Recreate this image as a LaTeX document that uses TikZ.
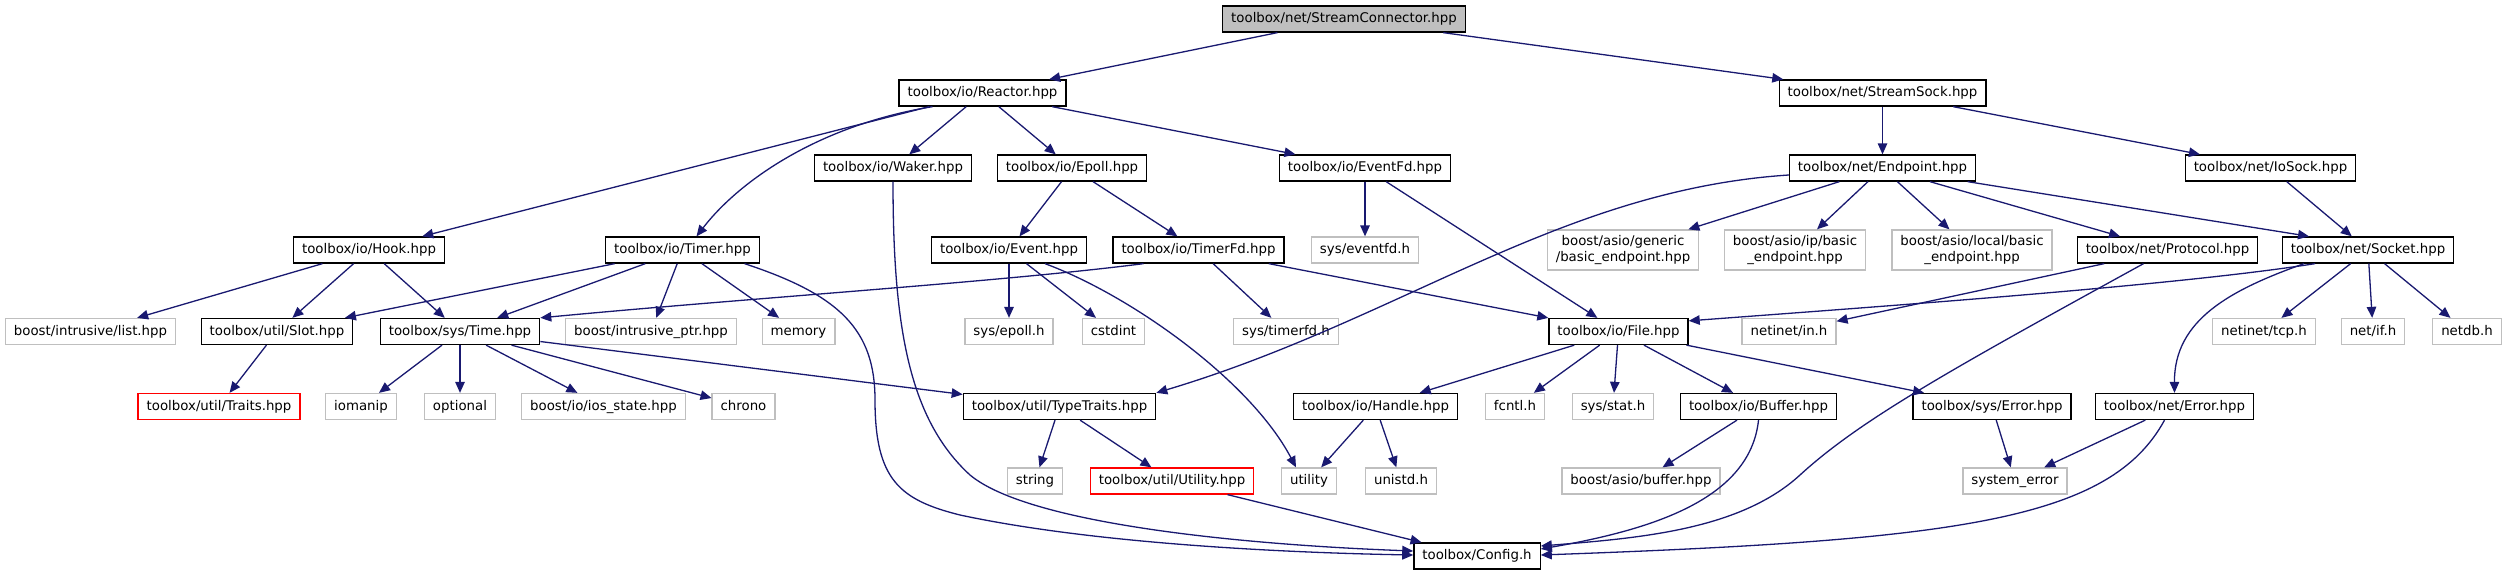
\documentclass[tikz,border=0pt]{standalone}
\usepackage{fontspec}
\setmainfont{DejaVu Sans}
\usepackage{xcolor}
\usepackage{tikz}
\usetikzlibrary{arrows.meta}
\definecolor{deplink}{HTML}{191970}
\definecolor{extgray}{HTML}{BFBFBF}
\definecolor{nodoc}{HTML}{FF0000}
\newcommand{\Lbl}{\fontsize{13.33}{16}\selectfont}

\begin{document}
\begin{tikzpicture}[x=1pt,y=-1pt, font=\Lbl,
    box/.style={rectangle, line width=1.3pt, inner xsep=8.5pt, inner ysep=0pt, minimum height=26pt, text height=10pt, text depth=3pt},
    hdr/.style={box, draw=black},
    ext/.style={box, draw=extgray},
    exttwo/.style={ext, align=center, minimum height=40pt, text height=, text depth=},
    miss/.style={box, draw=nodoc},
    dep/.style={draw=deplink, line width=1.3pt, -{Triangle[length=11pt,width=9.5pt]}}]
  \useasboundingbox (0,0) rectangle (2507,575);
  % headers of the project
  \node[hdr, fill=extgray] (sc) at (1344,19) {toolbox/net/StreamConnector.hpp};
  \node[hdr] (reactor) at (982.5,93) {toolbox/io/Reactor.hpp};
  \node[hdr] (streamsock) at (1882.5,93) {toolbox/net/StreamSock.hpp};
  \node[hdr] (waker) at (893,168) {toolbox/io/Waker.hpp};
  \node[hdr] (epoll) at (1072,168) {toolbox/io/Epoll.hpp};
  \node[hdr] (eventfd) at (1365,168) {toolbox/io/EventFd.hpp};
  \node[hdr] (endpoint) at (1882.5,168) {toolbox/net/Endpoint.hpp};
  \node[hdr] (iosock) at (2270.5,168) {toolbox/net/IoSock.hpp};
  \node[hdr] (hook) at (369,250) {toolbox/io/Hook.hpp};
  \node[hdr] (timer) at (682.5,250) {toolbox/io/Timer.hpp};
  \node[hdr] (event) at (1009,250) {toolbox/io/Event.hpp};
  \node[hdr] (timerfd) at (1198.5,250) {toolbox/io/TimerFd.hpp};
  \node[hdr] (protocol) at (2167.5,250) {toolbox/net/Protocol.hpp};
  \node[hdr] (socket) at (2368,250) {toolbox/net/Socket.hpp};
  \node[hdr] (slot) at (277,331.5) {toolbox/util/Slot.hpp};
  \node[hdr] (time) at (460,331.5) {toolbox/sys/Time.hpp};
  \node[hdr] (file) at (1618.5,331.5) {toolbox/io/File.hpp};
  \node[hdr] (typetraits) at (1059.5,406.5) {toolbox/util/TypeTraits.hpp};
  \node[hdr] (handle) at (1375.5,406.5) {toolbox/io/Handle.hpp};
  \node[hdr] (buffer) at (1758.5,406.5) {toolbox/io/Buffer.hpp};
  \node[hdr] (syserror) at (1992,406.5) {toolbox/sys/Error.hpp};
  \node[hdr] (neterror) at (2174.5,406.5) {toolbox/net/Error.hpp};
  \node[hdr] (config) at (1477,556) {toolbox/Config.h};
  \node[miss] (traits) at (219,406.5) {toolbox/util/Traits.hpp};
  \node[miss] (utilityhpp) at (1172,481) {toolbox/util/Utility.hpp};
  % system and boost headers
  \node[ext] (eventfdh) at (1365,250) {sys/eventfd.h};
  \node[exttwo] (genericep) at (1623,250) {boost/asio/generic\\/basic\_endpoint.hpp};
  \node[exttwo] (ipep) at (1795,250) {boost/asio/ip/basic\\\_endpoint.hpp};
  \node[exttwo] (localep) at (1972,250) {boost/asio/local/basic\\\_endpoint.hpp};
  \node[ext] (list) at (90.5,331.5) {boost/intrusive/list.hpp};
  \node[ext] (intrptr) at (651,331.5) {boost/intrusive\_ptr.hpp};
  \node[ext] (memory) at (798.5,331.5) {memory};
  \node[ext] (epollh) at (1009,331.5) {sys/epoll.h};
  \node[ext] (cstdint) at (1113.5,331.5) {cstdint};
  \node[ext] (timerfdh) at (1286,331.5) {sys/timerfd.h};
  \node[ext] (inh) at (1789,331.5) {netinet/in.h};
  \node[ext] (tcph) at (2264,331.5) {netinet/tcp.h};
  \node[ext] (ifh) at (2373,331.5) {net/if.h};
  \node[ext] (netdbh) at (2467,331.5) {netdb.h};
  \node[ext] (iomanip) at (361,406.5) {iomanip};
  \node[ext] (optional) at (460,406.5) {optional};
  \node[ext] (iosstate) at (603.5,406.5) {boost/io/ios\_state.hpp};
  \node[ext] (chrono) at (743.5,406.5) {chrono};
  \node[ext] (fcntlh) at (1515,406.5) {fcntl.h};
  \node[ext] (stath) at (1613,406.5) {sys/stat.h};
  \node[ext] (string) at (1035,481) {string};
  \node[ext] (utility) at (1309,481) {utility};
  \node[ext] (unistd) at (1401,481) {unistd.h};
  \node[ext] (asiobuf) at (1641,481) {boost/asio/buffer.hpp};
  \node[ext] (syserr) at (2015,481) {system\_error};
  % includes
  \foreach \t in {reactor,streamsock} \draw[dep] (sc) -- (\t);
  \foreach \t in {hook,waker,epoll,eventfd} \draw[dep] (reactor) -- (\t);
  \draw[dep] ([xshift=-50pt]reactor.south) .. controls (820,125) and (740,180) .. ([xshift=14pt]timer.north);
  \foreach \t in {endpoint,iosock} \draw[dep] (streamsock) -- (\t);
  \draw[dep] (waker.south) .. controls (893,330) and (910,420) .. (970,475) .. controls (1030,525) and (1250,545) .. ([yshift=5pt]config.west);
  \foreach \t in {event,timerfd} \draw[dep] (epoll) -- (\t);
  \foreach \t in {eventfdh,file} \draw[dep] (eventfd) -- (\t);
  \draw[dep] ([yshift=-7pt]endpoint.west) .. controls (1560,190) and (1400,320) .. (typetraits.north east);
  \foreach \t in {genericep,ipep,localep,protocol} \draw[dep] (endpoint) -- (\t);
  \draw[dep] (endpoint) -- ([xshift=-59pt]socket.north);
  \draw[dep] (iosock) -- (socket);
  \foreach \t in {list,slot,time} \draw[dep] (hook) -- (\t);
  \foreach \t in {slot,time,intrptr,memory} \draw[dep] (timer) -- (\t);
  \draw[dep] ([xshift=62pt]timer.south) .. controls (840,295) and (875,330) .. (875,400) .. controls (875,480) and (900,500) .. (960,515) .. controls (1100,545) and (1300,553) .. ([yshift=1pt]config.west);
  \foreach \t in {epollh,cstdint} \draw[dep] (event) -- (\t);
  \draw[dep] ([xshift=36pt]event.south) .. controls (1130,295) and (1250,380) .. ([xshift=-13pt]utility.north);
  \draw[dep] ([xshift=-55pt]timerfd.south) .. controls (1000,282) and (750,298) .. (time.north east);
  \foreach \t in {timerfdh,file} \draw[dep] (timerfd) -- (\t);
  \draw[dep] (protocol) -- (inh);
  \draw[dep] ([xshift=-24pt]protocol.south) .. controls (1950,370) and (1860,420) .. (1800,475) .. controls (1740,530) and (1640,538) .. ([yshift=10pt]config.east);
  \draw[dep] ([xshift=-53pt]socket.south) .. controls (2180,285) and (1900,305) .. ([yshift=-3pt]file.north east);
  \foreach \t in {tcph,ifh,netdbh} \draw[dep] (socket) -- (\t);
  \draw[dep] ([xshift=-64pt]socket.south) .. controls (2230,290) and (2174,320) .. (neterror.north);
  \draw[dep] (slot) -- (traits);
  \foreach \t in {iomanip,optional,iosstate,chrono,typetraits} \draw[dep] (time) -- (\t);
  \foreach \t in {handle,fcntlh,stath,buffer,syserror} \draw[dep] (file) -- (\t);
  \foreach \t in {string,utilityhpp} \draw[dep] (typetraits) -- (\t);
  \foreach \t in {utility,unistd} \draw[dep] (handle) -- (\t);
  \draw[dep] (buffer) -- (asiobuf);
  \draw[dep] (buffer.south) .. controls (1750,500) and (1650,530) .. ([yshift=7pt]config.east);
  \draw[dep] (syserror) -- (syserr);
  \draw[dep] (neterror) -- (syserr);
  \draw[dep] ([xshift=-10pt]neterror.south) .. controls (2110,520) and (1960,540) .. ([yshift=1pt]config.east);
  \draw[dep] (utilityhpp) -- (config);
\end{tikzpicture}
\end{document}
